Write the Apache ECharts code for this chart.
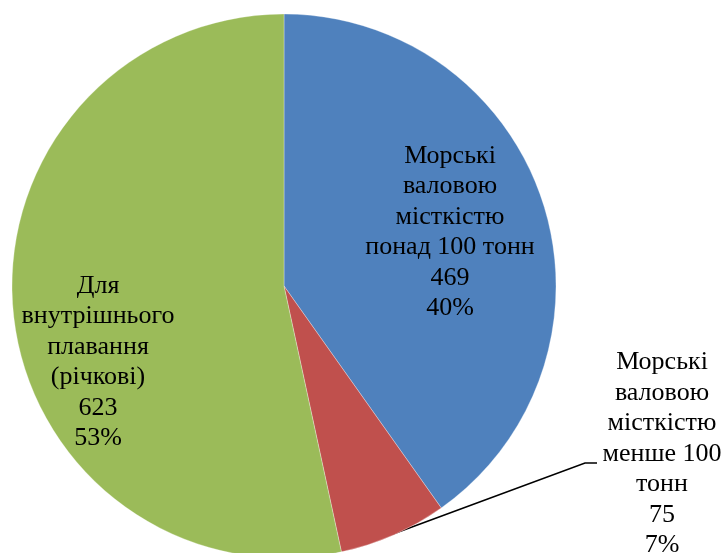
<!DOCTYPE html>
<html>
<head>
<meta charset="utf-8">
<script src="https://cdn.jsdelivr.net/npm/echarts@6/dist/echarts.min.js"></script>
<style>
html,body{margin:0;padding:0;background:#fff;}
#chart{width:725px;height:553px;}
</style>
</head>
<body>
<div id="chart"></div>
<script>
var categories = [
  'Морські\nваловою\nмісткістю\nпонад 100 тонн',
  'Морські\nваловою\nмісткістю\nменше 100\nтонн',
  'Для\nвнутрішнього\nплавання\n(річкові)'
];
var values = [469, 75, 623];
var percentLabels = ['40%', '7%', '53%'];
var colors = ['#4F81BD', '#C0504D', '#9BBB59'];

var chart = echarts.init(document.getElementById('chart'), null, {renderer: 'canvas'});

var labelPos = [
  {x: 450, y: 232},
  {x: 662, y: 454},
  {x: 98, y: 362}
];

var data = values.map(function (v, i) {
  return {
    name: categories[i],
    value: v,
    itemStyle: {color: colors[i]},
    label: {position: i === 1 ? 'outside' : 'inside'},
    labelLine: {show: i === 1}
  };
});

chart.setOption({
  animation: false,
  series: [{
    type: 'pie',
    center: [284, 286],
    radius: [0, 272],
    startAngle: 90,
    clockwise: true,
    avoidLabelOverlap: false,
    itemStyle: {borderColor: 'rgba(255,255,255,0.6)', borderWidth: 0.5},
    label: {
      show: true,
      formatter: function (p) {
        return p.name + '\n' + p.value + '\n' + percentLabels[p.dataIndex];
      },
      fontFamily: '"Liberation Serif", "Times New Roman", serif',
      fontSize: 26,
      lineHeight: 30.5,
      color: '#000',
      align: 'center'
    },
    labelLine: {
      lineStyle: {color: '#000', width: 1.6}
    },
    labelLayout: function (params) {
      var i = params.dataIndex;
      var res = {x: labelPos[i].x, y: labelPos[i].y, align: 'center', verticalAlign: 'middle'};
      if (i === 1) {
        res.labelLinePoints = [[393, 534], [585, 463], [597, 463]];
      }
      return res;
    },
    emphasis: {disabled: true},
    data: data
  }]
});
</script>
</body>
</html>
